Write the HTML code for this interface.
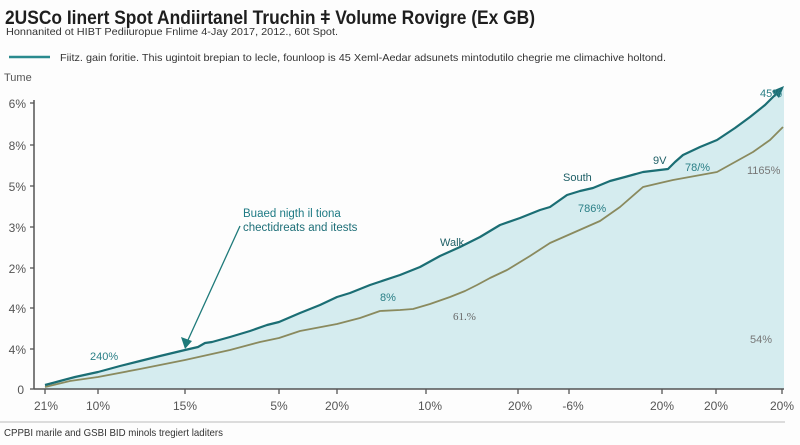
<!DOCTYPE html>
<html>
<head>
<meta charset="utf-8">
<style>
html,body{margin:0;padding:0;background:#fdfdfd;}
body{width:800px;height:445px;overflow:hidden;font-family:"Liberation Sans",sans-serif;}
svg{display:block;}
</style>
</head>
<body>
<svg width="800" height="445" viewBox="0 0 800 445" xmlns="http://www.w3.org/2000/svg">
<rect x="0" y="0" width="800" height="445" fill="#fdfdfd"/>
<text x="5" y="24" font-family="Liberation Sans, sans-serif" font-size="19.5" font-weight="bold" fill="#1e1e1e" textLength="530" lengthAdjust="spacingAndGlyphs">2USCo Iinert Spot Andiirtanel Truchin ǂ Volume Rovigre (Ex GB)</text>
<text x="6" y="35" font-family="Liberation Sans, sans-serif" font-size="10.5" fill="#333" textLength="332" lengthAdjust="spacingAndGlyphs">Honnanited ot HIBT Pediiuropue Fnlime 4-Jay 2017, 2012., 60t Spot.</text>
<line x1="9" y1="57" x2="50" y2="57" stroke="#2a8a8e" stroke-width="2.5"/>
<text x="60" y="61" font-family="Liberation Sans, sans-serif" font-size="10.5" fill="#333" textLength="606" lengthAdjust="spacingAndGlyphs">Fiitz. gain foritie. This ugintoit brepian to lecle, founloop is 45 Xeml-Aedar adsunets mintodutilo chegrie me climachive holtond.</text>
<text x="4" y="81" font-family="Liberation Sans, sans-serif" font-size="11" fill="#555">Tume</text>

<!-- fill -->
<polygon fill="#d5ecef" points="45,389 45,385 60,381 75,377 98,372 120,366 140,361 160,356 185,350 198,347 205,343 212,342 230,337 250,331 267,325 279,322 300,313 320,305 337,297 350,293 370,285 400,275 420,267 440,256 460,247 480,237 500,225 520,218 540,210 550,207 567,195 580,191 593,188 610,181 625,177 643,172 668,169 675,162 683,155 700,147 717,140 735,128 750,117 765,105 780,90 784,86 784,389"/>

<!-- olive line -->
<polyline fill="none" stroke="#8a8a5e" stroke-width="1.8" stroke-linejoin="round" points="45,387 70,381 98,377 140,369 185,360 230,350 260,342 279,338 300,331 337,324 360,318 380,311 400,310 413,309 430,304 450,297 465,291 477,285 490,278 507,270 530,256 550,243 575,232 600,221 620,207 643,187 660,183 673,180 695,176 717,172 735,162 753,152 770,140 783,127"/>

<!-- teal line -->
<polyline fill="none" stroke="#1b6e74" stroke-width="2.2" stroke-linejoin="round" points="45,385 60,381 75,377 98,372 120,366 140,361 160,356 185,350 198,347 205,343 212,342 230,337 250,331 267,325 279,322 300,313 320,305 337,297 350,293 370,285 400,275 420,267 440,256 460,247 480,237 500,225 520,218 540,210 550,207 567,195 580,191 593,188 610,181 625,177 643,172 668,169 675,162 683,155 700,147 717,140 735,128 750,117 765,105 778,92"/>
<polygon fill="#1b6e74" points="784,86 772,91 779,98"/>

<!-- annotation arrow -->
<line x1="240" y1="226" x2="188" y2="340" stroke="#1e7a7a" stroke-width="1.3"/>
<polygon fill="#1e7a7a" points="185,349 181,337 192,341"/>
<text x="243" y="217" font-family="Liberation Sans, sans-serif" font-size="11.5" fill="#1e7a84">Buaed nigth il tiona</text>
<text x="243" y="231" font-family="Liberation Sans, sans-serif" font-size="11.5" fill="#1e6f78">chectidreats and itests</text>

<!-- axes -->
<line x1="34" y1="100" x2="34" y2="389" stroke="#555" stroke-width="1.5"/>
<line x1="34" y1="389" x2="784" y2="389" stroke="#555" stroke-width="1.5"/>
<g stroke="#555" stroke-width="1.3">
<line x1="30" y1="103" x2="34" y2="103"/>
<line x1="30" y1="145" x2="34" y2="145"/>
<line x1="30" y1="186" x2="34" y2="186"/>
<line x1="30" y1="227" x2="34" y2="227"/>
<line x1="30" y1="268" x2="34" y2="268"/>
<line x1="30" y1="308" x2="34" y2="308"/>
<line x1="30" y1="349" x2="34" y2="349"/>
<line x1="30" y1="389" x2="34" y2="389"/>
<line x1="45" y1="389" x2="45" y2="394"/>
<line x1="98" y1="389" x2="98" y2="394"/>
<line x1="185" y1="389" x2="185" y2="394"/>
<line x1="279" y1="389" x2="279" y2="394"/>
<line x1="337" y1="389" x2="337" y2="394"/>
<line x1="426" y1="389" x2="426" y2="394"/>
<line x1="518" y1="389" x2="518" y2="394"/>
<line x1="569" y1="389" x2="569" y2="394"/>
<line x1="662" y1="389" x2="662" y2="394"/>
<line x1="716" y1="389" x2="716" y2="394"/>
<line x1="782" y1="389" x2="782" y2="394"/>
</g>
<g font-family="Liberation Sans, sans-serif" font-size="12" fill="#555" text-anchor="end">
<text x="26" y="108">6%</text>
<text x="26" y="150">8%</text>
<text x="26" y="191">5%</text>
<text x="26" y="232">3%</text>
<text x="26" y="273">2%</text>
<text x="26" y="313">4%</text>
<text x="26" y="354">4%</text>
<text x="24" y="394">0</text>
</g>
<g font-family="Liberation Sans, sans-serif" font-size="12" fill="#555" text-anchor="middle">
<text x="46" y="410">21%</text>
<text x="98" y="410">10%</text>
<text x="185" y="410">15%</text>
<text x="279" y="410">5%</text>
<text x="337" y="410">20%</text>
<text x="430" y="410">10%</text>
<text x="520" y="410">20%</text>
<text x="573" y="410">-6%</text>
<text x="662" y="410">20%</text>
<text x="716" y="410">20%</text>
<text x="782" y="410">20%</text>
</g>

<!-- data labels -->
<g font-family="Liberation Sans, sans-serif" font-size="11">
<text x="90" y="360" fill="#2a7f86">240%</text>
<text x="440" y="246" fill="#1e5f66">Walk</text>
<text x="380" y="301" fill="#2a7f86">8%</text>
<text x="453" y="320" fill="#666" font-family="Liberation Serif, serif">61.%</text>
<text x="750" y="343" fill="#777">54%</text>
<text x="563" y="181" fill="#1e5f66">South</text>
<text x="653" y="164" fill="#1e5f66">9V</text>
<text x="578" y="212" fill="#2a7f86">786%</text>
<text x="685" y="171" fill="#2a7f86">78/%</text>
<text x="747" y="174" fill="#777">1165%</text>
<text x="760" y="97" fill="#2a7f86">45%</text>
</g>

<!-- footer -->
<line x1="0" y1="422" x2="785" y2="422" stroke="#bbb" stroke-width="1"/>
<text x="4" y="436" font-family="Liberation Sans, sans-serif" font-size="10.5" fill="#333" textLength="219" lengthAdjust="spacingAndGlyphs">CPPBI marile and GSBI BID minols tregiert laditers</text>
</svg>
</body>
</html>
